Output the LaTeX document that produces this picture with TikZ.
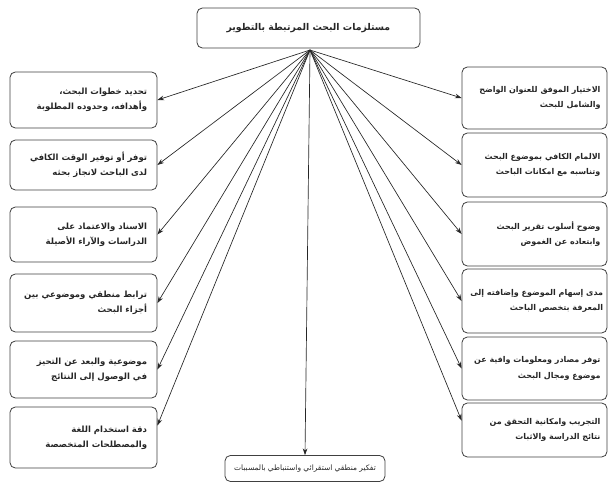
\documentclass[tikz,border=0pt]{standalone}
\usepackage{fontspec}
\newfontfamily\arabicfont[Script=Arabic]{DejaVu Sans}
\TeXXeTstate=1
\usetikzlibrary{arrows.meta}
\newcommand{\AR}[1]{\beginR #1\endR}
\begin{document}
\begin{tikzpicture}[x=0.75pt,y=-0.75pt,
  box/.style={draw=black!75, line width=0.6pt, rounded corners=4pt, fill=white,
    inner sep=0pt, font=\arabicfont\bfseries\fontsize{6.4}{11.5}\selectfont, align=center},
  lbox/.style={box, minimum width=147*0.75pt},
  rbox/.style={box, minimum width=145*0.75pt},
  txt/.style={anchor=east, inner sep=0pt, align=right, text=black!85, font=\arabicfont\bfseries\fontsize{6.4}{11.5}\selectfont},
  rtxt/.style={txt, font=\arabicfont\bfseries\fontsize{6.0}{11.5}\selectfont},
  con/.style={draw=black!85, line width=0.5pt, -{Stealth[length=5pt,width=3.5pt]}}]
\useasboundingbox (0,0) rectangle (613,493);
% top
\node[box, minimum width=223*0.75pt, minimum height=40*0.75pt, text=black!85, font=\arabicfont\bfseries\fontsize{7.0}{12}\selectfont] (top) at (308.5,28) {\AR{مستلزمات البحث المرتبطة بالتطوير}};
\coordinate (hub) at (310,50);
% left
\node[lbox, minimum height=56*0.75pt] (l1) at (83.5,100) {};
\node[lbox, minimum height=50*0.75pt] (l2) at (83.5,165) {};
\node[lbox, minimum height=55*0.75pt] (l3) at (83.5,234.5) {};
\node[lbox, minimum height=58*0.75pt] (l4) at (83.5,303) {};
\node[lbox, minimum height=57*0.75pt] (l5) at (83.5,369.5) {};
\node[lbox, minimum height=61*0.75pt] (l6) at (83.5,437.5) {};
\node[txt] (t1) at ([xshift=-7.5pt]l1.east) {\AR{تحديد خطوات البحث،}\\\AR{وأهدافه، وحدوده المطلوبة}};
\node[txt] (t2) at ([xshift=-7.5pt]l2.east) {\AR{توفر أو توفير الوقت الكافي}\\\AR{لدى الباحث لانجاز بحثه}};
\node[txt] (t3) at ([xshift=-7.5pt]l3.east) {\AR{الاسناد والاعتماد على}\\\AR{الدراسات والآراء الأصيلة}};
\node[txt] (t4) at ([xshift=-7.5pt]l4.east) {\AR{ترابط منطقي وموضوعي بين}\\\AR{أجزاء البحث}};
\node[txt] (t5) at ([xshift=-7.5pt]l5.east) {\AR{موضوعية والبعد عن التحيز}\\\AR{في الوصول إلى النتائج}};
\node[txt] (t6) at ([xshift=-7.5pt]l6.east) {\AR{دقة استخدام اللغة}\\\AR{والمصطلحات المتخصصة}};
% right
\node[rbox, minimum height=62*0.75pt] (r1) at (534.5,98) {};
\node[rbox, minimum height=64*0.75pt] (r2) at (534.5,165) {};
\node[rbox, minimum height=64*0.75pt] (r3) at (534.5,234) {};
\node[rbox, minimum height=64*0.75pt] (r4) at (534.5,301) {};
\node[rbox, minimum height=63*0.75pt] (r5) at (534.5,368.5) {};
\node[rbox, minimum height=54*0.75pt] (r6) at (534.5,430) {};
\node[rtxt] (s1) at ([xshift=-5pt]r1.east) {\AR{الاختيار الموفق للعنوان الواضح}\\\AR{والشامل للبحث}};
\node[rtxt] (s2) at ([xshift=-5pt]r2.east) {\AR{الالمام الكافي بموضوع البحث}\\\AR{وتناسبه مع امكانات الباحث}};
\node[rtxt] (s3) at ([xshift=-5pt]r3.east) {\AR{وضوح أسلوب تقرير البحث}\\\AR{وابتعاده عن الغموض}};
\node[rtxt] (s4) at ([xshift=-3pt]r4.east) {\AR{مدى إسهام الموضوع وإضافته إلى}\\\AR{المعرفة بتخصص الباحث}};
\node[rtxt] (s5) at ([xshift=-5pt]r5.east) {\AR{توفر مصادر ومعلومات وافية عن}\\\AR{موضوع ومجال البحث}};
\node[rtxt] (s6) at ([xshift=-5pt]r6.east) {\AR{التجريب وامكانية التحقق من}\\\AR{نتائج الدراسة والاثبات}};
% bottom
\node[box, minimum width=160*0.75pt, minimum height=26*0.75pt] (bot) at (305,468.5) {};
\node[txt, anchor=center, font=\arabicfont\fontsize{5.6}{10}\selectfont] (bt) at (bot.center) {\AR{تفكير منطقي استقرائي واستنباطي بالمسببات}};
% connectors
\foreach \n in {l1,l2,l3,l4,l5} \draw[con] (hub) -- (\n.east);
\draw[con] (hub) -- ([yshift=9pt]l6.east);
\foreach \n in {r1,r2,r3,r4,r5} \draw[con] (hub) -- (\n.west);
\draw[con] (hub) -- ([yshift=7pt]r6.west);
\draw[con] (hub) -- (bot.north);
\end{tikzpicture}
\end{document}
